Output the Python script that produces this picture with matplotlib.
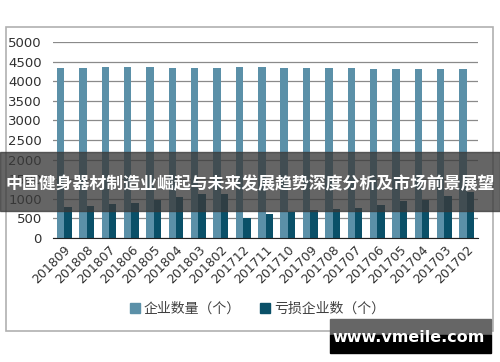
import matplotlib.pyplot as plt
from matplotlib.patches import Rectangle, Patch

plt.rcParams['font.family'] = ['Noto Sans CJK SC', 'DejaVu Sans']

# data
months = ['201809', '201808', '201807', '201806', '201805', '201804', '201803',
          '201802', '201712', '201711', '201710', '201709', '201708', '201707',
          '201706', '201705', '201704', '201703', '201702']
companies = [4330, 4330, 4355, 4355, 4355, 4330, 4330, 4330, 4355, 4350,
             4335, 4335, 4335, 4335, 4320, 4320, 4320, 4320, 4320]
loss_companies = [790, 815, 875, 900, 975, 1040, 1120, 1110, 500, 625,
                  665, 708, 730, 775, 830, 940, 980, 1080, 1165]
series_names = ['企业数量（个）', '亏损企业数（个）']
title = '中国健身器材制造业崛起与未来发展趋势深度分析及市场前景展望'
watermark = 'www.vmeile.com'

c1 = '#5b90a8'
c2 = '#0a5068'

fig = plt.figure(figsize=(5, 3.62), dpi=100)
fig.patch.set_facecolor('white')

# outer chart border
fig.patches.append(Rectangle((6 / 500, 1 - 331 / 362), 487 / 500, 304 / 362,
                             transform=fig.transFigure, fill=False,
                             edgecolor='#b0b0b0', lw=1.2))

ax = fig.add_axes([0.106, 0.3425, 0.85, 0.5415])
x = list(range(len(months)))
w = 0.33
ax.bar([i - w / 2 for i in x], companies, width=w, color=c1, zorder=2)
ax.bar([i + w / 2 for i in x], loss_companies, width=w, color=c2, zorder=2)

ax.set_xlim(-0.5, len(months) - 0.5)
ax.set_ylim(0, 5000)
ax.set_yticks(range(0, 5001, 500))
ax.yaxis.grid(True, color='#8a8a8a', lw=0.9, zorder=0)
ax.set_axisbelow(True)
for s in ['left', 'right', 'top']:
    ax.spines[s].set_visible(False)
ax.spines['bottom'].set_color('#202020')
ax.tick_params(axis='both', length=0, labelsize=9.5, colors='#303030')
ax.tick_params(axis='y', pad=8)
ax.set_xticks(x)
ax.set_xticklabels(months, rotation=45, ha='right', rotation_mode='anchor',
                   fontsize=9, family='DejaVu Sans')
for lab in ax.get_yticklabels():
    lab.set_family('DejaVu Sans')

handles = [Patch(color=c1), Patch(color=c2)]
fig.legend(handles, series_names, loc='center', ncol=2, frameon=False,
           bbox_to_anchor=(0.515, 1 - 309 / 362), fontsize=10,
           handlelength=0.7, handleheight=0.7, handletextpad=0.3,
           columnspacing=1.4, labelcolor='#404040')

# title band overlay
fig.patches.append(Rectangle((0, 1 - 211 / 362), 1, 59 / 362,
                             transform=fig.transFigure, color='#3a3a3a',
                             alpha=0.78, zorder=10))
fig.text(0.5, 1 - 184 / 362, title, color='white', fontsize=12.2,
         fontweight='bold', ha='center', va='center', zorder=11)

# watermark box
fig.patches.append(Rectangle((330 / 500, 1 - 335 / 362), 161 / 500, 16 / 362,
                             transform=fig.transFigure, color='#666666', zorder=10))
fig.patches.append(Rectangle((330 / 500, 1 - 353 / 362), 161 / 500, 18 / 362,
                             transform=fig.transFigure, color='black', zorder=10))
fig.text(409 / 500, 1 - 337 / 362, watermark, color='white', fontsize=11.5,
         fontweight='bold', ha='center', va='center', zorder=11,
         family='DejaVu Sans')

fig.savefig('out.png', dpi=100)
